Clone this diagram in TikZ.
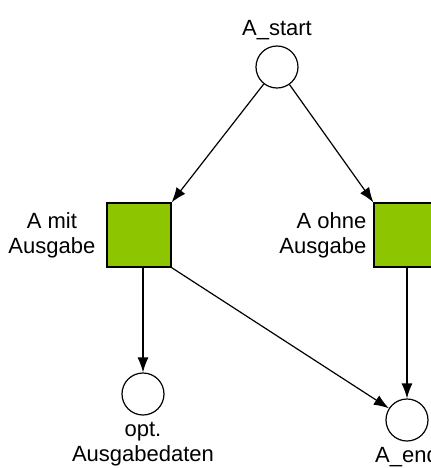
\documentclass[tikz,border=0pt]{standalone}
\usepackage{fontspec}
\setmainfont{Liberation Sans}
\usetikzlibrary{arrows.meta}
\definecolor{transgreen}{RGB}{141,198,0}

\begin{document}
\begin{tikzpicture}[
  x=0.5pt, y=-0.5pt,
  font=\fontsize{11}{12.5}\selectfont,
  place/.style={draw, circle, line width=0.6pt, minimum size=21pt, inner sep=0pt, fill=white},
  trans/.style={draw, fill=transgreen, line width=0.6pt, minimum size=32pt, inner sep=0pt},
  arr/.style={-{Latex[length=7.5pt,width=5.5pt]}, line width=0.6pt}
]
\path[use as bounding box, clip] (0,0) rectangle (431,468);
% places
\node[place, label={[label distance=-1pt]above:A\_start}] (start) at (277,67) {};
\node[place, label={[align=center, label distance=0pt]below:opt.\\Ausgabedaten}] (opt) at (143,394) {};
\node[place, label={[label distance=-1pt]below:A\_end}] (end) at (407,420) {};
% transitions
\node[trans, label={[align=center, label distance=2pt]left:A mit\\Ausgabe}] (mit) at (139,235) {};
\node[trans, label={[align=right, label distance=0pt]left:A ohne\\Ausgabe}] (ohne) at (406,235) {};
% arcs
\draw[arr] (start) -- (mit.north east);
\draw[arr] (start) -- (ohne.north west);
\draw[arr] (mit.south -| opt) -- (opt);
\draw[arr] (mit.south east) -- (end);
\draw[arr] (ohne.south -| end) -- (end);
\end{tikzpicture}
\end{document}
